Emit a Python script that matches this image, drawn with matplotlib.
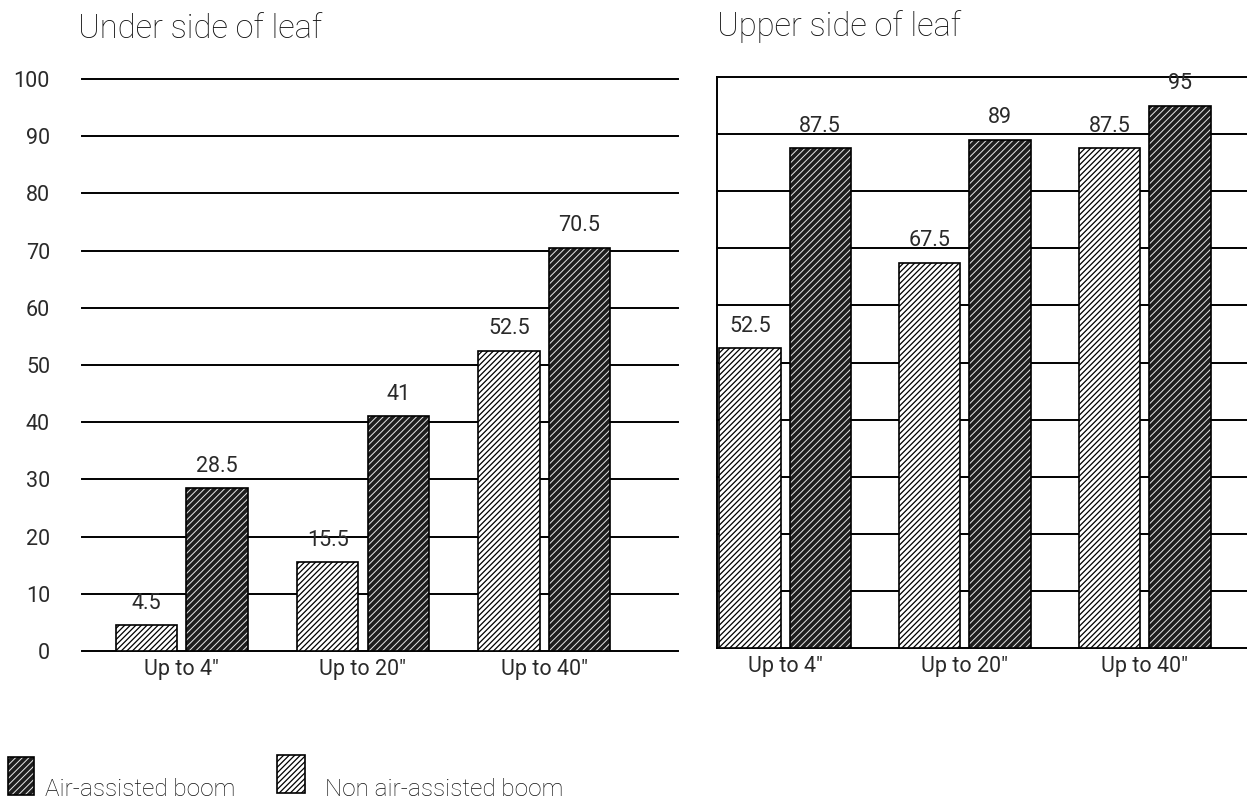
import matplotlib
matplotlib.use('Agg')
import matplotlib.pyplot as plt
import numpy as np
from matplotlib.patches import Rectangle

plt.rcParams['font.family'] = ['Roboto', 'DejaVu Sans']
plt.rcParams['font.weight'] = 'normal'

categories = ['Up to 4"', 'Up to 20"', 'Up to 40"']
under_non_air = [4.5, 15.5, 52.5]
under_air = [28.5, 41, 70.5]
upper_non_air = [52.5, 67.5, 87.5]
upper_air = [87.5, 89, 95]
yticks = [0, 10, 20, 30, 40, 50, 60, 70, 80, 90, 100]

DARK = '#1e1e1e'
TXT = '#2a2a2a'
W, H = 1247, 799

fig = plt.figure(figsize=(W / 100, H / 100), dpi=100)


def fx(px):
    return px / W


def fy(px):
    return 1 - px / H


ax1 = fig.add_axes([fx(82), fy(651), fx(678) - fx(82), fy(79) - fy(651)])
ax2 = fig.add_axes([fx(717), fy(648), fx(1247) - fx(717), fy(77) - fy(648)])


def draw_panel(ax, non_air, air, xlim, show_yticks, left_spine):
    x = np.arange(len(categories))
    width = 0.34
    off = 0.195
    for t in yticks:
        ax.axhline(t, color='black', lw=1.4, zorder=0, clip_on=False)

    # non air-assisted: white with black hatch
    plt.rcParams['hatch.linewidth'] = 0.9
    ax.bar(x - off, non_air, width, color='white', edgecolor='black',
           hatch='//////', linewidth=1.2, zorder=2)
    # air-assisted: dark fill with white hatch, then black outline
    plt.rcParams['hatch.linewidth'] = 0.7
    ax.bar(x + off, air, width, color=DARK, edgecolor='#e8e8e8',
           hatch='/////', linewidth=0, zorder=2)
    ax.bar(x + off, air, width, color='none', edgecolor='black',
           linewidth=1.2, zorder=3)

    for xi, v in zip(x - off, non_air):
        ax.text(xi, v + 2.0, f'{v:g}', ha='center', va='bottom',
                fontsize=15.5, color=TXT)
    for xi, v in zip(x + off, air):
        ax.text(xi, v + 2.0, f'{v:g}', ha='center', va='bottom',
                fontsize=15.5, color=TXT)

    ax.set_xlim(*xlim)
    ax.set_ylim(0, 100)
    ax.set_xticks(x)
    ax.set_xticklabels(categories, fontsize=15.5, color=TXT)
    ax.tick_params(axis='x', length=0, pad=6)
    if show_yticks:
        ax.set_yticks(yticks)
        ax.tick_params(axis='y', length=0, pad=23, labelsize=15.5,
                       labelcolor=TXT)
    else:
        ax.set_yticks([])
    for s in ['top', 'right', 'bottom', 'left']:
        ax.spines[s].set_visible(False)
    if left_spine:
        ax.spines['left'].set_visible(True)
        ax.spines['left'].set_linewidth(1.4)
    ax.patch.set_alpha(0)


draw_panel(ax1, under_non_air, under_air, (-0.552, 2.74), True, False)
draw_panel(ax2, upper_non_air, upper_air, (-0.378, 2.567), False, True)

fig.text(fx(78), fy(38), 'Under side of leaf', fontsize=23.5, color='#111111',
         va='baseline', ha='left', fontweight='light')
fig.text(fx(717), fy(36), 'Upper side of leaf', fontsize=23.5, color='#111111',
         va='baseline', ha='left', fontweight='light')


# legend
def swatch(px, py, w, h, dark):
    box = ((fx(px), fy(py + h)), fx(w), h / H)
    if dark:
        plt.rcParams['hatch.linewidth'] = 0.7
        fig.add_artist(Rectangle(*box, transform=fig.transFigure,
                                 facecolor=DARK, edgecolor='#e8e8e8',
                                 hatch='/////', linewidth=0))
        fig.add_artist(Rectangle(*box, transform=fig.transFigure,
                                 facecolor='none', edgecolor='black',
                                 linewidth=1.2))
    else:
        plt.rcParams['hatch.linewidth'] = 0.9
        fig.add_artist(Rectangle(*box, transform=fig.transFigure,
                                 facecolor='white', edgecolor='black',
                                 hatch='//////', linewidth=1.2))


swatch(8, 757, 26, 38, True)
swatch(277, 755, 28, 38, False)
fig.text(fx(45), fy(796), 'Air-assisted boom', fontsize=17.5, color='#111111',
         va='baseline', ha='left', fontweight='light')
fig.text(fx(325), fy(796), 'Non air-assisted boom', fontsize=17.5,
         color='#111111', va='baseline', ha='left', fontweight='light')

fig.savefig('out.png', dpi=100)
